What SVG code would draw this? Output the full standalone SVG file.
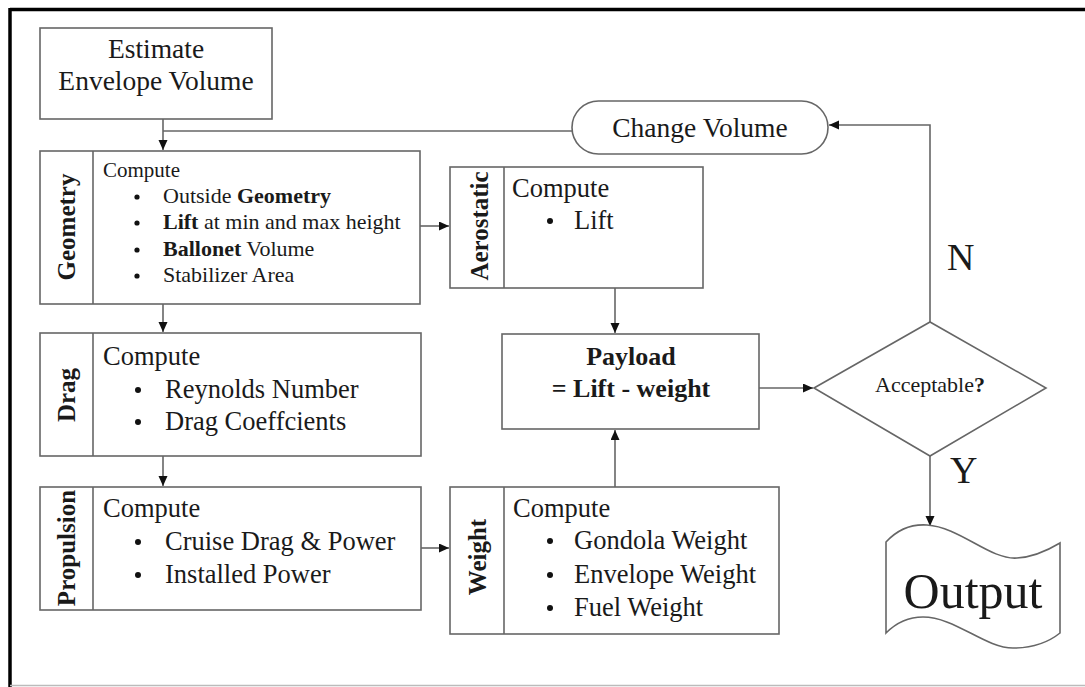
<svg xmlns="http://www.w3.org/2000/svg" width="1085" height="687" viewBox="0 0 1085 687">
<defs>
<style>
.box{fill:#fff;stroke:#666;stroke-width:1.6}
.t{font-family:"Liberation Serif","Times New Roman",serif;fill:#1a1a1a}
.b{font-weight:bold}
.c{stroke:#666;stroke-width:1.6;fill:none}
.dot{fill:#111}
.ttl{font-family:"Liberation Serif","Times New Roman",serif;font-weight:bold;font-size:25px;fill:#1a1a1a;text-anchor:middle}
</style>
<marker id="ah" markerUnits="userSpaceOnUse" markerWidth="11" markerHeight="10" refX="10" refY="4.5" orient="auto">
<path d="M0,0 L10,4.5 L0,9 Z" fill="#111"/>
</marker>
</defs>
<rect width="1085" height="687" fill="#fff"/>
<g id="frame">
<line x1="10" y1="9.5" x2="1085" y2="9.5" stroke="#000" stroke-width="3.5"/>
<line x1="10" y1="8" x2="10" y2="687" stroke="#000" stroke-width="3.5"/>
<line x1="10" y1="685.5" x2="1085" y2="685.5" stroke="#bbb" stroke-width="1.5"/>
</g>
<g id="connectors">
<path class="c" d="M163,119 V150" marker-end="url(#ah)"/>
<path class="c" d="M572,131 H163"/>
<path class="c" d="M163,304 V332" marker-end="url(#ah)"/>
<path class="c" d="M163,456 V486" marker-end="url(#ah)"/>
<path class="c" d="M420,226 H449" marker-end="url(#ah)"/>
<path class="c" d="M421,548 H449" marker-end="url(#ah)"/>
<path class="c" d="M615,288 V333" marker-end="url(#ah)"/>
<path class="c" d="M615,487 V430" marker-end="url(#ah)"/>
<path class="c" d="M759,388 H813" marker-end="url(#ah)"/>
<path class="c" d="M930,322 V125 H829" marker-end="url(#ah)"/>
<path class="c" d="M930,456 V526" marker-end="url(#ah)"/>
<text class="t" x="947" y="270" font-size="38">N</text>
<text class="t" x="950" y="483" font-size="38">Y</text>
</g>
<g id="estimate">
<rect class="box" x="40" y="28" width="232" height="91"/>
<text class="t" x="156" y="58" font-size="27.5" text-anchor="middle">Estimate</text>
<text class="t" x="156" y="90" font-size="27.5" text-anchor="middle">Envelope Volume</text>
</g>
<g id="change-volume">
<rect class="box" x="572" y="101" width="256" height="53" rx="26.5" ry="26.5"/>
<text class="t" x="700" y="137" font-size="27.5" text-anchor="middle">Change Volume</text>
</g>
<g id="geometry">
<rect class="box" x="40" y="151" width="380" height="153"/>
<line class="c" x1="93" y1="151" x2="93" y2="304"/>
<text class="ttl" transform="translate(75,227) rotate(-90)">Geometry</text>
<text class="t" x="103" y="177" font-size="21">Compute</text>
<circle class="dot" cx="137" cy="197" r="2.6"/>
<circle class="dot" cx="137" cy="223" r="2.6"/>
<circle class="dot" cx="137" cy="250" r="2.6"/>
<circle class="dot" cx="137" cy="276" r="2.6"/>
<g class="t" font-size="22">
<text x="163" y="203">Outside <tspan class="b">Geometry</tspan></text>
<text x="163" y="229"><tspan class="b">Lift</tspan> at min and max height</text>
<text x="163" y="256"><tspan class="b">Ballonet</tspan> Volume</text>
<text x="163" y="282">Stabilizer Area</text>
</g>
</g>
<g id="aerostatic">
<rect class="box" x="450" y="167" width="253" height="121"/>
<line class="c" x1="504" y1="167" x2="504" y2="288"/>
<text class="ttl" transform="translate(488,226) rotate(-90)">Aerostatic</text>
<circle class="dot" cx="550" cy="221" r="3"/>
<g class="t" font-size="26.5">
<text x="512" y="197">Compute</text>
<text x="574" y="229">Lift</text>
</g>
</g>
<g id="drag">
<rect class="box" x="40" y="333" width="381" height="123"/>
<line class="c" x1="93" y1="333" x2="93" y2="456"/>
<text class="ttl" transform="translate(75,395) rotate(-90)">Drag</text>
<circle class="dot" cx="138" cy="390" r="3"/>
<circle class="dot" cx="138" cy="422" r="3"/>
<g class="t" font-size="26.5">
<text x="103" y="365">Compute</text>
<text x="165" y="398">Reynolds Number</text>
<text x="165" y="430">Drag Coeffcients</text>
</g>
</g>
<g id="propulsion">
<rect class="box" x="40" y="487" width="381" height="123"/>
<line class="c" x1="93" y1="487" x2="93" y2="610"/>
<text class="ttl" transform="translate(75,548) rotate(-90)">Propulsion</text>
<circle class="dot" cx="138" cy="542" r="3"/>
<circle class="dot" cx="138" cy="575" r="3"/>
<g class="t" font-size="26.5">
<text x="103" y="517">Compute</text>
<text x="165" y="550">Cruise Drag &amp; Power</text>
<text x="165" y="583">Installed Power</text>
</g>
</g>
<g id="weight">
<rect class="box" x="450" y="487" width="329" height="147"/>
<line class="c" x1="504" y1="487" x2="504" y2="634"/>
<text class="ttl" transform="translate(486,557) rotate(-90)">Weight</text>
<circle class="dot" cx="550" cy="541" r="3"/>
<circle class="dot" cx="550" cy="575" r="3"/>
<circle class="dot" cx="550" cy="608" r="3"/>
<g class="t" font-size="26.5">
<text x="513" y="517">Compute</text>
<text x="574" y="549">Gondola Weight</text>
<text x="574" y="583">Envelope Weight</text>
<text x="574" y="616">Fuel Weight</text>
</g>
</g>
<g id="payload">
<rect class="box" x="502" y="334" width="257" height="95"/>
<text class="t b" x="631" y="365" font-size="26" text-anchor="middle">Payload</text>
<text class="t b" x="631" y="397" font-size="26" text-anchor="middle">= Lift - weight</text>
</g>
<g id="acceptable">
<polygon class="box" points="814,388 930,322 1046,388 930,456"/>
<text class="t" x="930" y="392" font-size="22" text-anchor="middle">Acceptable<tspan class="b">?</tspan></text>
</g>
<g id="output">
<path class="box" d="M886,542 C898,529 912,524 927,525 C960,527 990,560 1017,558 C1035,557 1050,549 1060,543 L1060,633 C1050,641 1035,648 1013,648 C985,648 955,617 923,617 C906,617 894,625 886,633 Z"/>
<text class="t" x="973" y="608" font-size="50" text-anchor="middle">Output</text>
</g>
</svg>
